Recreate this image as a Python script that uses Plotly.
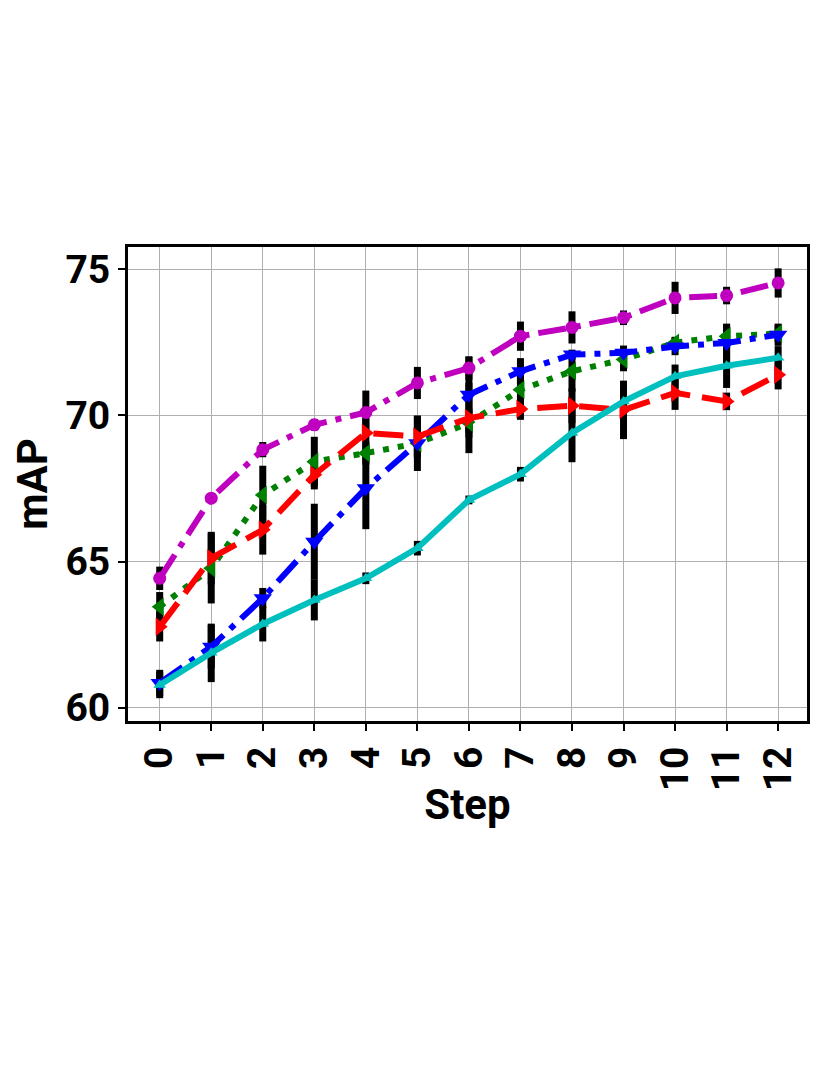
import plotly.graph_objects as go

steps = list(range(13))

# mean mAP per step for each run
magenta_y = [64.43, 67.17, 68.83, 69.68, 70.10, 71.11, 71.62, 72.71, 73.01, 73.34, 74.02, 74.10, 74.53]
blue_y = [60.85, 62.09, 63.75, 65.68, 67.51, 69.05, 70.71, 71.51, 72.08, 72.14, 72.36, 72.48, 72.76]
green_y = [63.46, 64.77, 67.28, 68.42, 68.71, 69.05, 69.74, 70.88, 71.51, 71.91, 72.49, 72.71, 72.80]
red_y = [62.77, 65.12, 66.09, 67.97, 69.40, 69.28, 69.91, 70.22, 70.33, 70.19, 70.77, 70.48, 71.39]
cyan_y = [60.78, 61.88, 62.87, 63.69, 64.43, 65.46, 67.11, 67.99, 69.40, 70.48, 71.34, 71.70, 71.97]

# error (std) per step
magenta_err = [0.4, 0.1, 0.26, 0.2, 0.75, 0.55, 0.4, 0.5, 0.55, 0.25, 0.55, 0.3, 0.5]
blue_err = [0.45, 0.75, 0.35, 1.3, 1.4, 0.95, 1.3, 0.45, 0.17, 0.25, 0.3, 0.66, 0.38]
green_err = [0.5, 1.2, 1.0, 0.85, 0.4, 0.5, 0.5, 0.6, 0.7, 0.4, 0.2, 0.4, 0.3]
red_err = [0.5, 0.9, 0.85, 0.5, 0.5, 0.7, 1.2, 0.37, 0.6, 1.0, 0.58, 0.3, 0.5]
cyan_err = [0.45, 1.0, 0.6, 0.7, 0.2, 0.25, 0.15, 0.25, 1.0, 0.5, 0.4, 0.76, 0.4]

series = [
    # y, err, colour, dash, symbol, marker size
    (green_y, green_err, "#008000", "6px,9px", "triangle-left", 16),
    (blue_y, blue_err, "#0000ff", "28px,9px,6px,9px", "triangle-down", 16),
    (red_y, red_err, "#ff0000", "30px,12px", "triangle-right", 16),
    (magenta_y, magenta_err, "#bf00bf", "28px,9px,6px,9px", "circle", 13),
    (cyan_y, cyan_err, "#00bfbf", "solid", "triangle-up", 11),
]

fig = go.Figure()

# error bars first so the lines sit on top
for y, err, col, dash, sym, ms in series:
    fig.add_trace(go.Scatter(
        x=steps, y=y, mode="markers", marker=dict(size=0.1, color="rgba(0,0,0,0)"),
        error_y=dict(type="data", array=err, color="black", thickness=7, width=0),
        showlegend=False, hoverinfo="skip"))

for y, err, col, dash, sym, ms in series:
    fig.add_trace(go.Scatter(
        x=steps, y=y, mode="lines+markers",
        line=dict(color=col, width=6, dash=dash),
        marker=dict(symbol=sym, size=ms, color=col),
        showlegend=False))

font = "Roboto"

axis_common = dict(
    showgrid=True, gridcolor="#b0b0b0", gridwidth=1,
    showline=True, linecolor="black", linewidth=3, mirror=True,
    ticks="outside", ticklen=7, tickwidth=1.5, tickcolor="black",
    zeroline=False, automargin=False,
    tickfont=dict(family=font, size=39, color="black", weight="bold"),
)

# page body has an 8px margin, so the figure is a little smaller than the window
fig.update_layout(
    width=822, height=1067,
    paper_bgcolor="white", plot_bgcolor="white",
    margin=dict(l=120, r=23, t=239, b=354),
    xaxis=dict(range=[-0.615, 12.56], tickmode="array", tickvals=steps,
               ticktext=[str(s) for s in steps], tickangle=-90,
               title=dict(text="Step", standoff=0,
                          font=dict(family=font, size=42, color="black", weight="bold")),
               **axis_common),
    yaxis=dict(range=[59.55, 75.76], tickvals=[60, 65, 70, 75],
               title=dict(text="mAP", standoff=16,
                          font=dict(family=font, size=42, color="black", weight="bold")),
               **axis_common),
)

fig.write_html("out.html")
